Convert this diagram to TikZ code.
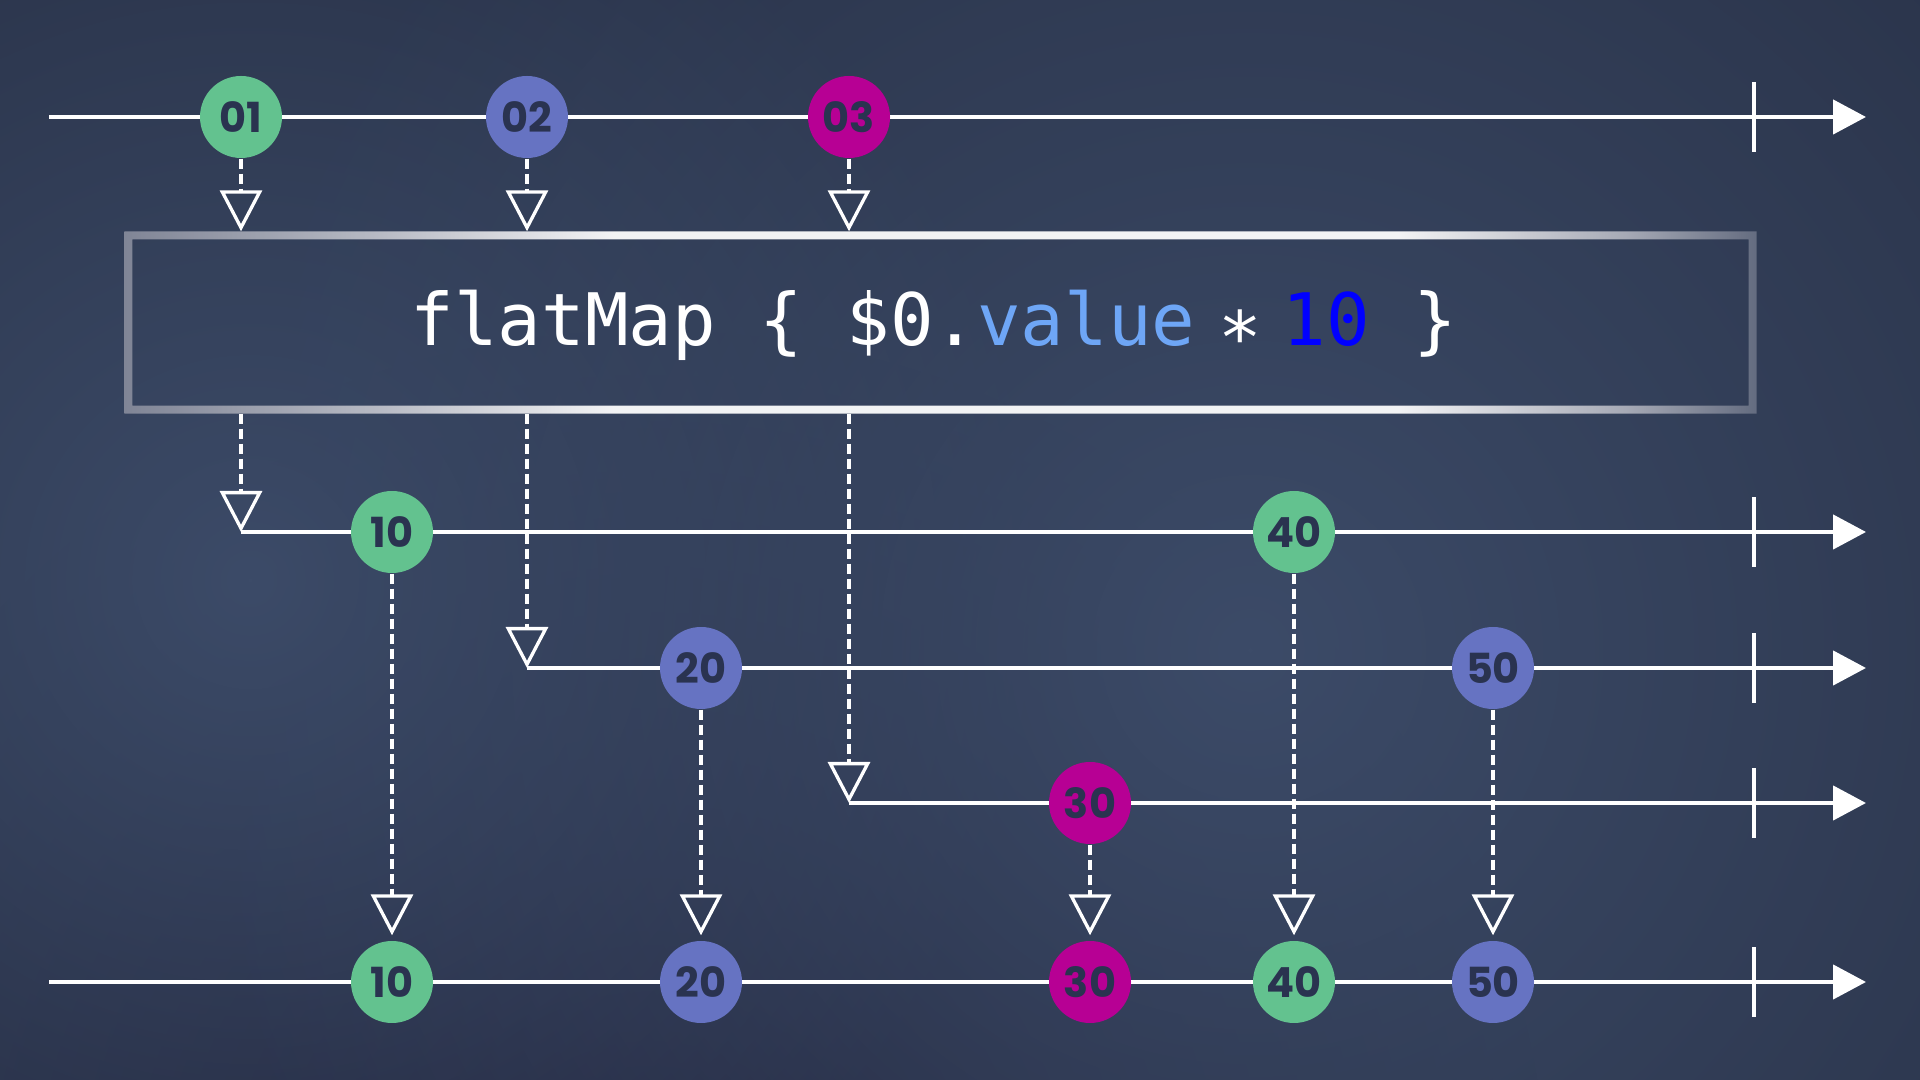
\documentclass[tikz,border=0pt]{standalone}
\usepackage{fontspec}
\usepackage{xcolor}
\usepackage{tikz}
\usetikzlibrary{arrows.meta,positioning,calc,fadings}
\newfontfamily\codefont{DejaVu Sans Mono}
\newfontfamily\dotfont{Poppins}

\definecolor{bgbase}{RGB}{41,50,72}
\definecolor{bglight}{RGB}{60,75,104}
\definecolor{bgdark}{RGB}{30,31,54}
\definecolor{dotgreen}{RGB}{99,194,143}
\definecolor{dotblue}{RGB}{102,115,194}
\definecolor{dotmagenta}{RGB}{183,0,148}
\definecolor{dotlabel}{RGB}{42,51,80}
\definecolor{valueblue}{RGB}{110,166,246}
\definecolor{numblue}{RGB}{0,0,255}
\definecolor{frameleft}{RGB}{128,133,150}
\definecolor{frameright}{RGB}{100,108,128}

% Soft glow for the background
\tikzfading[name=glow, inner color=transparent!0, outer color=transparent!100]

% Frame highlight, bright in the middle (path spans 25bp..75bp)
\pgfdeclarehorizontalshading{framesheen}{100bp}{
    color(0bp)=(frameleft); color(25bp)=(frameleft); color(33bp)=(frameleft!55!white);
    color(40bp)=(white!90!frameleft); color(64bp)=(white!90!frameleft);
    color(71bp)=(frameleft!70!white); color(75bp)=(frameright); color(100bp)=(frameright)}

\begin{document}
\begin{tikzpicture}[
        dot/.style={circle, minimum size=8.2mm, inner sep=0pt, text=dotlabel,
            font=\dotfont\bfseries\fontsize{11.8}{11.8}\selectfont},
        timeline/.style={white, line width=0.45mm, -{Triangle[length=3.3mm,width=3.4mm]}},
        flow/.style={white, line width=0.33mm, dash pattern=on 1mm off 0.5mm,
            -{Triangle[open,length=4.1mm,width=4.2mm]}},
        tick/.style={white, line width=0.33mm}
    ]
        % Background
        \useasboundingbox (0,0) rectangle (19.2,10.8);
        \begin{scope}
            \clip (0,0) rectangle (19.2,10.8);
            \fill[bgbase] (0,0) rectangle (19.2,10.8);
            \fill[bgdark, path fading=glow] (6.5,-1.5) circle (9);
            \fill[bglight, path fading=glow] (2.5,5.0) circle (8);
            \fill[bglight, path fading=glow] (12.5,4.3) circle (11);
        \end{scope}
        
        % Timelines with end ticks
        \foreach \name/\xs/\y in {a0/0.49/9.63, a1/2.41/5.48, a2/5.27/4.12, a3/8.49/2.77, a4/0.49/0.98} {
            \coordinate (\name s) at (\xs,\y);
            \coordinate (\name e) at (18.66,\y);
            \draw[timeline] (\name s) -- (\name e);
            \draw[tick] (17.54,\y-0.35) -- (17.54,\y+0.35);
        }
        
        % Operator box
        \node[minimum width=16.31cm, minimum height=1.81cm, inner sep=0pt] (box) at (9.405,7.575) {};
        \shade[shading=framesheen, even odd rule]
            (box.south west) rectangle (box.north east)
            ([shift={(0.08,0.08)}]box.south west) rectangle ([shift={(-0.08,-0.08)}]box.north east);
        \node[anchor=base west, inner sep=0pt, text=white, font=\codefont\fontsize{20.6}{24}\selectfont]
            (code) at (4.10,7.34) {flatMap \{ \$0.{\color{valueblue}value}
            \kern-0.28em\raisebox{-0.24em}{*}\kern0.28em{\color{numblue}10} \}};
        
        % Marbles
        \foreach \name/\x/\y/\col/\lab in {c01/2.41/9.63/dotgreen/01, c02/5.27/9.63/dotblue/02, c03/8.49/9.63/dotmagenta/03,
            d10/3.92/5.48/dotgreen/10, d40/12.94/5.48/dotgreen/40,
            d20/7.01/4.12/dotblue/20, d50/14.93/4.12/dotblue/50,
            d30/10.90/2.77/dotmagenta/30,
            o10/3.92/0.98/dotgreen/10, o20/7.01/0.98/dotblue/20, o30/10.90/0.98/dotmagenta/30,
            o40/12.94/0.98/dotgreen/40, o50/14.93/0.98/dotblue/50} {
            \node[dot, fill=\col] (\name) at (\x,\y) {\lab};
        }
        
        % Into the operator
        \foreach \c in {c01, c02, c03} {
            \draw[flow] (\c) -- (\c |- box.north);
        }
        
        % Out of the operator onto inner timelines
        \draw[flow] (c01 |- box.south) -- (a1s);
        \draw[flow] (c02 |- box.south) -- (a2s);
        \draw[flow] (c03 |- box.south) -- (a3s);
        
        % Merged into output
        \foreach \a/\b in {d10/o10, d20/o20, d30/o30, d40/o40, d50/o50} {
            \draw[flow, shorten >=0.5mm] (\a) -- (\b);
        }
        
    \end{tikzpicture}
\end{document}
